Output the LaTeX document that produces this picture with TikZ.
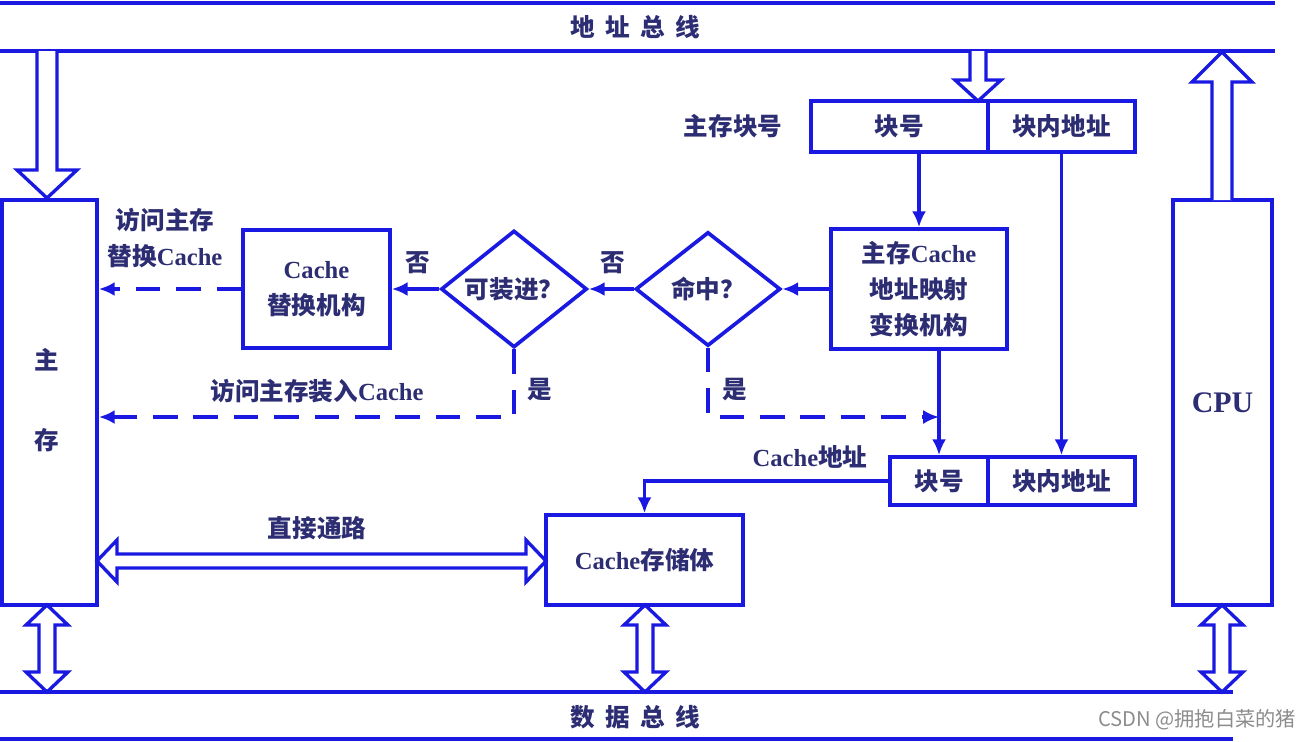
\documentclass[tikz,border=0pt]{standalone}
\usepackage{fontspec}
\setmainfont{Liberation Serif}
\newfontfamily\cjk{Noto Sans CJK SC}
\usetikzlibrary{arrows.meta,shapes.geometric}
\definecolor{busblue}{RGB}{25,25,225}
\definecolor{txtblue}{RGB}{45,45,115}
\newcommand{\hz}[1]{{\cjk #1}}

\begin{document}
\begin{tikzpicture}[x=0.02cm,y=-0.02cm,
  wire/.style={draw=busblue,line width=2.1pt},
  txt/.style={text=txtblue,font=\fontsize{14}{20.5}\selectfont\bfseries,align=center,inner sep=1pt},
  box/.style={wire,rectangle,inner sep=0pt,txt},
  decide/.style={wire,diamond,inner sep=0pt},
  flow/.style={wire,-{Latex[length=9pt,width=8pt]}},
  dflow/.style={flow,dash pattern=on 14pt off 9pt},
  hollow/.style={draw=busblue,line width=1.9pt,fill=white,line join=miter}]

\useasboundingbox (0,0) rectangle (1310,741);

% buses
\draw[wire] (0,3) -- (1275,3);
\draw[wire] (0,51) -- (1275,51);
\draw[wire] (0,692) -- (1233,692);
\draw[wire] (0,739) -- (1233,739);
\node[txt] (abus) at (635,27) {\hz{地\hspace{6pt}址\hspace{6pt}总\hspace{6pt}线}};
\node[txt] (dbus) at (635,717) {\hz{数\hspace{6pt}据\hspace{6pt}总\hspace{6pt}线}};

% blocks
\node[box,minimum width=1.9cm,minimum height=8.1cm] (mem) at (49.5,402.5) {};
\node[txt] (memA) at (47,360) {\hz{主}};
\node[txt] (memB) at (47,440) {\hz{存}};
\node[box,minimum width=1.98cm,minimum height=8.1cm,font=\fontsize{17}{20}\selectfont\bfseries] (cpu) at (1222.5,402.5) {CPU};

\node[box,minimum width=3.54cm,minimum height=1.02cm] (blk1) at (899.5,126.5) {\hz{块号}};
\node[box,minimum width=2.94cm,minimum height=1.02cm] (off1) at (1061.5,126.5) {\hz{块内地址}};
\node[txt] (mlab) at (733,126) {\hz{主存块号}};

\node[box,minimum width=3.52cm,minimum height=2.4cm] (map) at (919,289) {\hz{主存}Cache\\\hz{地址映射}\\\hz{变换机构}};
\node[decide,minimum width=2.9cm,minimum height=2.28cm] (hit) at (708,289) {};
\node[txt] (hitq) at (hit) {\hz{命中？}};
\node[decide,minimum width=2.92cm,minimum height=2.34cm] (fit) at (514,289) {};
\node[txt] (fitq) at (fit) {\hz{可装进？}};
\node[box,minimum width=2.94cm,minimum height=2.36cm] (repl) at (316.5,289) {Cache\\\hz{替换机构}};

\node[box,minimum width=1.96cm,minimum height=0.96cm] (blk2) at (939,481) {\hz{块号}};
\node[box,minimum width=2.94cm,minimum height=0.96cm] (off2) at (1061.5,481) {\hz{块内地址}};
\node[txt] (clab) at (810,457) {Cache\hz{地址}};
\node[box,minimum width=3.94cm,minimum height=1.8cm] (store) at (644.5,560) {Cache\hz{存储体}};

% labels
\node[txt] (no1) at (613,263) {\hz{否}};
\node[txt] (no2) at (418,263) {\hz{否}};
\node[txt] (yes1) at (540,390) {\hz{是}};
\node[txt] (yes2) at (735,390) {\hz{是}};
\node[txt] (rlab) at (165,238) {\hz{访问主存}\\\hz{替换}Cache};
\node[txt] (llab) at (317,391) {\hz{访问主存装入}Cache};
\node[txt] (dlab) at (317,528) {\hz{直接通路}};
\node[text=black!45,font=\fontsize{11.5}{14}\selectfont\cjk,inner sep=0pt] (wm) at (1197,720) {CSDN @拥抱白菜的猪};

% flow
\coordinate (yesrow) at (0,417);
\draw[flow] (blk1.south -| map.north) -- (map.north);
\draw[flow] (off1.south) -- (off2.north);
\draw[flow] (blk2.north |- map.south) -- (blk2.north);
\draw[flow] (map.west) -- (hit.east);
\draw[flow] (hit.west) -- (fit.east);
\draw[flow] (fit.west) -- (repl.east);
\draw[dflow] (repl.west) -- (mem.east |- repl.west);
\draw[dflow] (fit.south) |- (mem.east |- yesrow);
\draw[dflow] (hit.south) |- (blk2.north |- yesrow);
\draw[flow] (blk2.west) -| (store.north);

% hollow arrows
\draw[hollow] (37,51) -- (37,170) -- (17,170) -- (47,198) -- (77,170) -- (57,170) -- (57,51);
\draw[hollow] (970,51) -- (970,80) -- (955,80) -- (978,101) -- (1001,80) -- (986,80) -- (986,51);
\draw[hollow] (1212,200) -- (1212,82) -- (1192,82) -- (1222,52) -- (1252,82) -- (1232,82) -- (1232,200);
\draw[hollow] (97,561) -- (117,540) -- (117,554) -- (526,554) -- (526,540) -- (546,561)
  -- (526,582) -- (526,568) -- (117,568) -- (117,582) -- cycle;
\foreach \cx in {47,645,1222}
  \draw[hollow] (\cx,605) -- ++(21,20) -- ++(-13,0) -- ++(0,47) -- ++(13,0) -- ++(-21,20)
    -- ++(-21,-20) -- ++(13,0) -- ++(0,-47) -- ++(-13,0) -- cycle;

\end{tikzpicture}
\end{document}
